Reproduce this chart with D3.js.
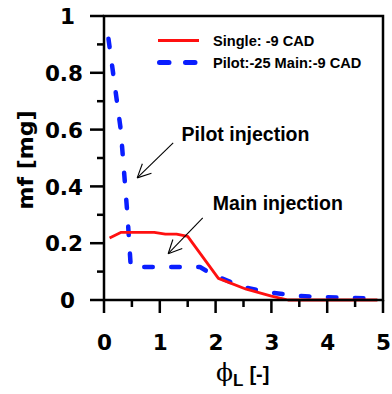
<!DOCTYPE html>
<html>
<head>
<meta charset="utf-8">
<script src="https://cdn.jsdelivr.net/npm/d3@7/dist/d3.min.js"></script>
<style>
  html, body { margin: 0; padding: 0; background: #fff; }
  svg { display: block; }
</style>
</head>
<body>
<svg id="chart" width="392" height="394"></svg>
<script>
// Equivalence ratio phi_L and fuel mass mf [mg]
const singleX = [0.1, 0.3, 0.5, 0.9, 1.1, 1.3, 1.5, 2.05, 2.55, 3.0, 3.3, 3.5, 4.0, 4.5, 4.9];
const singleY = [0.218, 0.238, 0.238, 0.238, 0.232, 0.232, 0.224, 0.076, 0.038, 0.014, 0, 0, 0, 0, 0];

const pilotX = [0.08, 0.3, 0.42, 0.48, 1.0, 1.72, 1.96, 2.5, 2.94, 3.5, 4.0, 4.5, 4.9];
const pilotY = [0.92, 0.6, 0.3, 0.116, 0.116, 0.116, 0.088, 0.045, 0.027, 0.014, 0.01, 0.007, 0.005];

const seriesNames = ["Single: -9 CAD", "Pilot:-25 Main:-9 CAD"];

const xTicks = [0, 1, 2, 3, 4, 5];
const xMinorTicks = [0.5, 1.5, 2.5, 3.5, 4.5];
const yTicks = [0, 0.2, 0.4, 0.6, 0.8, 1];
const yMinorTicks = [0.1, 0.3, 0.5, 0.7, 0.9];
const yTickLabels = ["0", "0.2", "0.4", "0.6", "0.8", "1"];

// annotation text and arrows, in data units
const notes = [
  { text: "Pilot injection", x: 1.39, y: 0.56, from: [1.24, 0.553], to: [0.595, 0.43] },
  { text: "Main injection", x: 1.95, y: 0.317, from: [1.77, 0.289], to: [1.15, 0.163] }
];

const svg = d3.select("#chart");
const m = { left: 104, top: 16, right: 9, bottom: 94 };
const W = 392 - m.left - m.right;
const H = 394 - m.top - m.bottom;

const x = d3.scaleLinear().domain([0, 5]).range([0, W]);
const y = d3.scaleLinear().domain([0, 1]).range([H, 0]);

const g = svg.append("g").attr("transform", `translate(${m.left},${m.top})`);

const bold = "'Liberation Sans', Arial, sans-serif";
const tickFont = "'DejaVu Sans', Verdana, sans-serif";

// series lines
const lineGen = d3.line().x(d => x(d[0])).y(d => y(d[1]));
const pilotData = pilotX.map((v, i) => [v, pilotY[i]]);
const singleData = singleX.map((v, i) => [v, singleY[i]]);

g.append("path").datum(pilotData)
  .attr("d", lineGen).attr("fill", "none")
  .attr("stroke", "#0a1eff").attr("stroke-width", 4.5)
  .attr("stroke-linecap", "round").attr("stroke-linejoin", "round")
  .attr("stroke-dasharray", "8.5,18.5");

g.append("path").datum(singleData)
  .attr("d", lineGen).attr("fill", "none")
  .attr("stroke", "#ff1010").attr("stroke-width", 2.8)
  .attr("stroke-linejoin", "round");

// tick labels through d3 axes
const xAxis = g.append("g").attr("transform", `translate(0,${H})`)
  .call(d3.axisBottom(x).tickValues(xTicks).tickSize(0).tickFormat(d3.format("d")));
const yAxis = g.append("g")
  .call(d3.axisLeft(y).tickValues(yTicks).tickSize(0).tickFormat((d, i) => yTickLabels[i]));
[xAxis, yAxis].forEach(a => {
  a.select(".domain").remove();
  a.selectAll("text").attr("fill", "#000")
    .style("font-family", tickFont).style("font-weight", "bold").style("font-size", "21.5px");
});
xAxis.selectAll("text").attr("dy", null).attr("y", 49.5);
yAxis.selectAll("text").attr("dy", "0.36em").attr("x", -21)
  .each(function (d) {
    if (Number.isInteger(d)) d3.select(this).attr("text-anchor", "middle").attr("x", -36.5);
  });

// tick marks, as filled bars 2.5 px thick, pointing outward
const tw = 2.5;
const tickG = g.append("g").attr("fill", "#000");
tickG.selectAll("rect.xt").data(xTicks.map(v => [v, 13]).concat(xMinorTicks.map(v => [v, 7])))
  .join("rect").attr("class", "xt")
  .attr("x", d => x(d[0]) - tw / 2).attr("y", H).attr("width", tw).attr("height", d => d[1]);
tickG.selectAll("rect.yt").data(yTicks.map(v => [v, 14]).concat(yMinorTicks.map(v => [v, 7])))
  .join("rect").attr("class", "yt")
  .attr("x", d => -d[1]).attr("y", d => y(d[0]) - tw / 2).attr("width", d => d[1]).attr("height", tw);

// frame: axis lines plus top and right borders
g.append("rect").attr("x", x(0)).attr("y", y(1))
  .attr("width", x(5) - x(0)).attr("height", y(0) - y(1))
  .attr("fill", "none").attr("stroke", "#000").attr("stroke-width", 2.5);

// axis titles
svg.append("text")
  .attr("transform", "translate(32.5,160) rotate(-90)")
  .attr("text-anchor", "middle")
  .style("font-family", tickFont).style("font-weight", "bold").style("font-size", "22px")
  .text("mf [mg]");

const xt = svg.append("text").attr("x", 216).attr("y", 381);
xt.append("tspan").style("font-family", "'DejaVu Serif', serif").style("font-size", "25px")
  .text("\u03D5");
xt.append("tspan").attr("dy", 5).style("font-family", bold).style("font-weight", "bold")
  .style("font-size", "17px").text("L");
xt.append("tspan").attr("dy", -5).attr("dx", 6).style("font-family", bold).style("font-weight", "bold")
  .style("font-size", "20px").text("[-]");

// legend
const leg = svg.append("g");
leg.append("line").attr("x1", 158).attr("x2", 199).attr("y1", 40.5).attr("y2", 40.5)
  .attr("stroke", "#ff1010").attr("stroke-width", 2.8);
leg.append("line").attr("x1", 159.5).attr("x2", 195).attr("y1", 62.5).attr("y2", 62.5)
  .attr("stroke", "#0a1eff").attr("stroke-width", 5).attr("stroke-linecap", "round")
  .attr("stroke-dasharray", "9.5,16.5");
leg.selectAll("text.lg").data(seriesNames).join("text")
  .attr("x", 213).attr("y", (d, i) => 45.7 + i * 21.8)
  .style("font-family", bold).style("font-weight", "bold").style("font-size", "14.6px")
  .text(d => d);

// annotations with open arrowheads
const arrowHead = (x1, y1, x2, y2, len, ang) => {
  const a = Math.atan2(y1 - y2, x1 - x2);
  return [a - ang, a + ang].map(t => [x2 + len * Math.cos(t), y2 + len * Math.sin(t)]);
};
notes.forEach(n => {
  g.append("text").attr("x", x(n.x)).attr("y", y(n.y))
    .style("font-family", bold).style("font-weight", "bold").style("font-size", "19.5px")
    .text(n.text);
  const x1 = x(n.from[0]), y1 = y(n.from[1]), x2 = x(n.to[0]), y2 = y(n.to[1]);
  g.append("line").attr("x1", x1).attr("y1", y1).attr("x2", x2).attr("y2", y2)
    .attr("stroke", "#000").attr("stroke-width", 1.1);
  arrowHead(x1, y1, x2, y2, 15, 0.45).forEach(p => {
    g.append("line").attr("x1", x2).attr("y1", y2).attr("x2", p[0]).attr("y2", p[1])
      .attr("stroke", "#000").attr("stroke-width", 1.1);
  });
});
</script>
</body>
</html>
